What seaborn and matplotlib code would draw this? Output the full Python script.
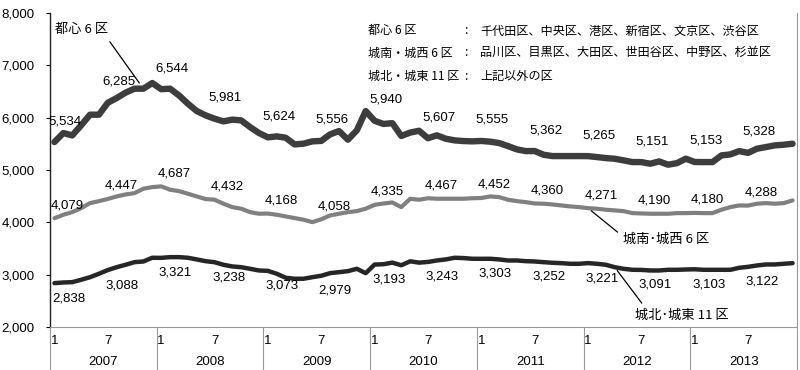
import matplotlib
matplotlib.use("Agg")
import matplotlib.pyplot as plt
import matplotlib.transforms as mtransforms
from matplotlib import font_manager
import numpy as np
import pandas as pd
import seaborn as sns

# Monthly values, Jan 2007 - Dec 2013 (84 months)
years = [2007, 2008, 2009, 2010, 2011, 2012, 2013]
month_ticks = ["1", "7"]

toshin = [
    5534, 5706, 5661, 5853, 6057, 6057, 6285, 6375, 6478, 6554, 6554, 6662,
    6544, 6554, 6426, 6268, 6127, 6044, 5981, 5929, 5962, 5948, 5820, 5706,
    5624, 5642, 5617, 5489, 5503, 5547, 5556, 5681, 5744, 5579, 5757, 6127,
    5940, 5880, 5895, 5650, 5715, 5750, 5607, 5662, 5598, 5566, 5553, 5547,
    5555, 5541, 5515, 5457, 5394, 5361, 5362, 5292, 5266, 5266, 5266, 5266,
    5265, 5247, 5228, 5215, 5184, 5151, 5151, 5120, 5164, 5101, 5131, 5216,
    5153, 5151, 5151, 5279, 5298, 5361, 5328, 5407, 5438, 5470, 5483, 5502,
]
jonan = [
    4079, 4145, 4195, 4271, 4367, 4405, 4447, 4495, 4533, 4558, 4642, 4673,
    4687, 4623, 4597, 4547, 4495, 4445, 4432, 4356, 4291, 4260, 4195, 4164,
    4168, 4145, 4113, 4081, 4050, 4004, 4058, 4132, 4164, 4195, 4214, 4260,
    4335, 4360, 4380, 4291, 4450, 4432, 4460, 4451, 4451, 4451, 4451, 4460,
    4465, 4495, 4482, 4432, 4405, 4386, 4360, 4356, 4342, 4323, 4304, 4291,
    4271, 4260, 4241, 4228, 4214, 4176, 4170, 4164, 4164, 4164, 4176, 4176,
    4180, 4176, 4176, 4241, 4291, 4323, 4320, 4356, 4367, 4356, 4367, 4419,
]
johoku = [
    2838, 2851, 2857, 2902, 2952, 3017, 3088, 3143, 3189, 3239, 3252, 3323,
    3321, 3335, 3335, 3323, 3291, 3258, 3238, 3189, 3157, 3143, 3112, 3080,
    3073, 3017, 2941, 2922, 2922, 2952, 2979, 3029, 3048, 3067, 3112, 3029,
    3193, 3200, 3230, 3180, 3255, 3230, 3243, 3271, 3291, 3323, 3317, 3304,
    3303, 3304, 3291, 3271, 3271, 3258, 3252, 3239, 3227, 3220, 3208, 3208,
    3221, 3208, 3189, 3143, 3112, 3093, 3091, 3080, 3080, 3093, 3093, 3099,
    3103, 3093, 3093, 3093, 3093, 3131, 3150, 3176, 3195, 3195, 3208, 3220,
]

# Values printed at each January / July
toshin_labels = [5534, 6285, 6544, 5981, 5624, 5556, 5940, 5607, 5555, 5362, 5265, 5151, 5153, 5328]
jonan_labels = [4079, 4447, 4687, 4432, 4168, 4058, 4335, 4467, 4452, 4360, 4271, 4190, 4180, 4288]
johoku_labels = [2838, 3088, 3321, 3238, 3073, 2979, 3193, 3243, 3303, 3252, 3221, 3091, 3103, 3122]

names = ["都心 6 区", "城南・城西 6 区", "城北・城東 11 区"]
members = ["千代田区、中央区、港区、新宿区、文京区、渋谷区",
           "品川区、目黒区、大田区、世田谷区、中野区、杉並区",
           "上記以外の区"]

sns.set_theme(style="white")
installed = {f.name for f in font_manager.fontManager.ttflist}
narrow = "Liberation Sans Narrow" in installed
num_font = "Liberation Sans Narrow" if narrow else "Liberation Sans"
num_size = 11 if narrow else 9.5
plt.rcParams["font.family"] = [num_font, "Noto Sans CJK JP", "DejaVu Sans"]
cjk = ["Noto Sans CJK JP", "DejaVu Sans"]
cjk_size = 8.7
callout_size = 9.5

idx = np.arange(len(toshin))
df = pd.DataFrame({"idx": idx, "toshin": toshin, "jonan": jonan, "johoku": johoku})

fig = plt.figure(figsize=(8, 3.7), dpi=100)
ax = fig.add_axes([50 / 800, 43 / 370, 747 / 800, 314 / 370])

styles = {
    "toshin": ("#3d3d3d", 4.6),
    "jonan": ("#808080", 3.0),
    "johoku": ("#262626", 3.2),
}
for col, (color, lw) in styles.items():
    sns.lineplot(data=df, x="idx", y=col, ax=ax, color=color, linewidth=lw,
                 solid_joinstyle="round", solid_capstyle="round")

ax.set_xlim(-0.5, 83.5)
ax.set_ylim(2000, 8000)
ax.set_xlabel("")
ax.set_ylabel("")

yt = list(range(2000, 8001, 1000))
ax.set_yticks(yt)
ax.set_yticklabels([f"{v:,}" for v in yt], fontsize=num_size, color="black")
ax.tick_params(axis="y", left=True, length=3, width=0.8, color="black", pad=8, direction="out")

xt = [y * 12 + m for y in range(len(years)) for m in (0, 6)]
ax.set_xticks(xt)
ax.set_xticklabels(month_ticks * len(years), fontsize=num_size, color="black")
ax.tick_params(axis="x", length=0, pad=6)

ax.spines["top"].set_visible(False)
ax.spines["left"].set_color("#222222")
ax.spines["left"].set_linewidth(1.0)
ax.spines["right"].set_color("#999999")
ax.spines["right"].set_linewidth(0.8)
ax.spines["bottom"].set_color("#999999")
ax.spines["bottom"].set_linewidth(0.8)

# Year separators and year labels under the axis
trans = mtransforms.blended_transform_factory(ax.transData, ax.transAxes)
for k in range(len(years) + 1):
    b = k * 12 - 0.5
    ax.plot([b, b], [0, -45 / 314], transform=trans, color="#999999", lw=0.8, clip_on=False)
for k, yr in enumerate(years):
    ax.text(k * 12 + 5.5, -35 / 314, str(yr), transform=trans, ha="center", va="center",
            fontsize=num_size, color="black")

# Value labels at January and July
label_sets = [
    (toshin, toshin_labels, (11, 21)),
    (jonan, jonan_labels, (13, 13)),
    (johoku, johoku_labels, (14, -15)),
]
for series, labels, (dx, dy) in label_sets:
    for j, lab in enumerate(labels):
        i = j * 6
        ax.annotate(f"{lab:,}", (i, series[i]), xytext=(dx, dy), textcoords="offset pixels",
                    ha="center", va="center", fontsize=num_size, color="black")

# Series callouts
arrow = dict(arrowstyle="-", color="black", lw=0.9, shrinkA=2, shrinkB=5)
ax.annotate(names[0], (10, toshin[10]), xytext=(-88, 59), textcoords="offset pixels",
            ha="left", va="center", family=cjk, fontsize=callout_size, color="black",
            arrowprops=dict(arrow, relpos=(0.95, 0.0)))
ax.annotate("城南･城西 6 区", (60, jonan[60]), xytext=(35, -31), textcoords="offset pixels",
            ha="left", va="center", family=cjk, fontsize=callout_size, color="black",
            arrowprops=dict(arrow, relpos=(0.0, 0.7), shrinkB=3))
ax.annotate("城北･城東 11 区", (63, johoku[63]), xytext=(20, -48), textcoords="offset pixels",
            ha="left", va="center", family=cjk, fontsize=callout_size, color="black",
            arrowprops=dict(arrow, relpos=(0.12, 1.0), shrinkB=3))

# Area definitions (top right)
rows_y = [0.943, 0.873, 0.799]
for name, mem, yy in zip(names, members, rows_y):
    ax.text((368 - 50) / 747, yy, name, transform=ax.transAxes, ha="left", va="center",
            family=cjk, fontsize=cjk_size, color="black")
    ax.text((466 - 50) / 747, yy, ":", transform=ax.transAxes, ha="center", va="center",
            family=cjk, fontsize=cjk_size, color="black")
    ax.text((480 - 50) / 747, yy, mem, transform=ax.transAxes, ha="left", va="center",
            family=cjk, fontsize=cjk_size, color="black")

fig.savefig("out.png", dpi=100, facecolor="white")
